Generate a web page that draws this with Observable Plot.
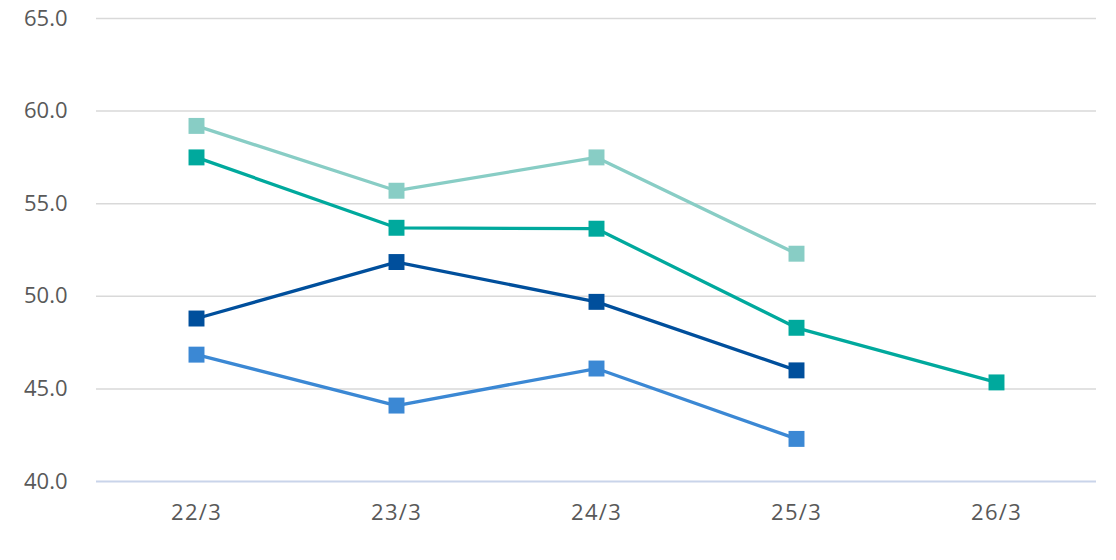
<!DOCTYPE html>
<html>
<head>
<meta charset="utf-8">
<script src="https://cdn.jsdelivr.net/npm/d3@7"></script>
<script src="https://cdn.jsdelivr.net/npm/@observablehq/plot@0.6"></script>
<style>
  html, body { margin: 0; padding: 0; background: #fff; }
  #chart svg { display: block; }
  #chart svg text { font-family: 'Open Sans', 'DejaVu Sans', sans-serif !important; font-size: 22px !important; fill: #595959 !important; }
  #chart svg g[aria-label="y-axis tick label"] text { letter-spacing: 0px; }
  #chart svg g[aria-label="x-axis tick label"] text { letter-spacing: 1.3px; }
</style>
</head>
<body>
<div id="chart"></div>
<script>
const categories = ["22/3", "23/3", "24/3", "25/3", "26/3"];
const seriesNames = ["S1", "S2", "S3", "S4"];
const s1 = [59.2, 55.7, 57.5, 52.3, null];   // light teal
const s2 = [57.5, 53.7, 53.65, 48.3, 45.35]; // teal
const s3 = [48.8, 51.85, 49.7, 46.0, null];  // dark blue
const s4 = [46.85, 44.1, 46.1, 42.3, null];  // blue
const colors = ["#88cdc5", "#00a99d", "#004f9c", "#3b88d4"];
const yTicks = [40, 45, 50, 55, 60, 65];

const allSeries = [s1, s2, s3, s4];
const data = [];
allSeries.forEach((vals, i) => {
  vals.forEach((v, j) => {
    if (v != null) data.push({series: seriesNames[i], cat: categories[j], value: v});
  });
});

const chart = Plot.plot({
  width: 1116,
  height: 560,
  marginLeft: 96,
  marginRight: 20,
  marginTop: 18,
  marginBottom: 79,
  style: {fontFamily: "'Open Sans', 'DejaVu Sans', sans-serif", fontSize: "22px", color: "#595959", background: "#fff"},
  x: {type: "point", domain: categories, padding: 0.5, label: null},
  y: {domain: [40, 65], label: null},
  color: {domain: seriesNames, range: colors},
  marks: [
    Plot.ruleY(yTicks.filter(d => d > 40), {stroke: "#d9d9d9", strokeWidth: 1.5}),
    Plot.ruleY([40], {stroke: "#c9d4ea", strokeWidth: 2}),
    Plot.axisY({ticks: yTicks, tickFormat: d3.format(".1f"), tickSize: 0, tickPadding: 29}),
    Plot.axisX({tickSize: 0, tickPadding: 23}),
    Plot.line(data, {x: "cat", y: "value", z: "series", stroke: "series", strokeWidth: 3.3}),
    Plot.dot(data, {x: "cat", y: "value", fill: "series", symbol: "square", r: 9, stroke: "none"})
  ]
});
document.getElementById("chart").appendChild(chart);
</script>
</body>
</html>
